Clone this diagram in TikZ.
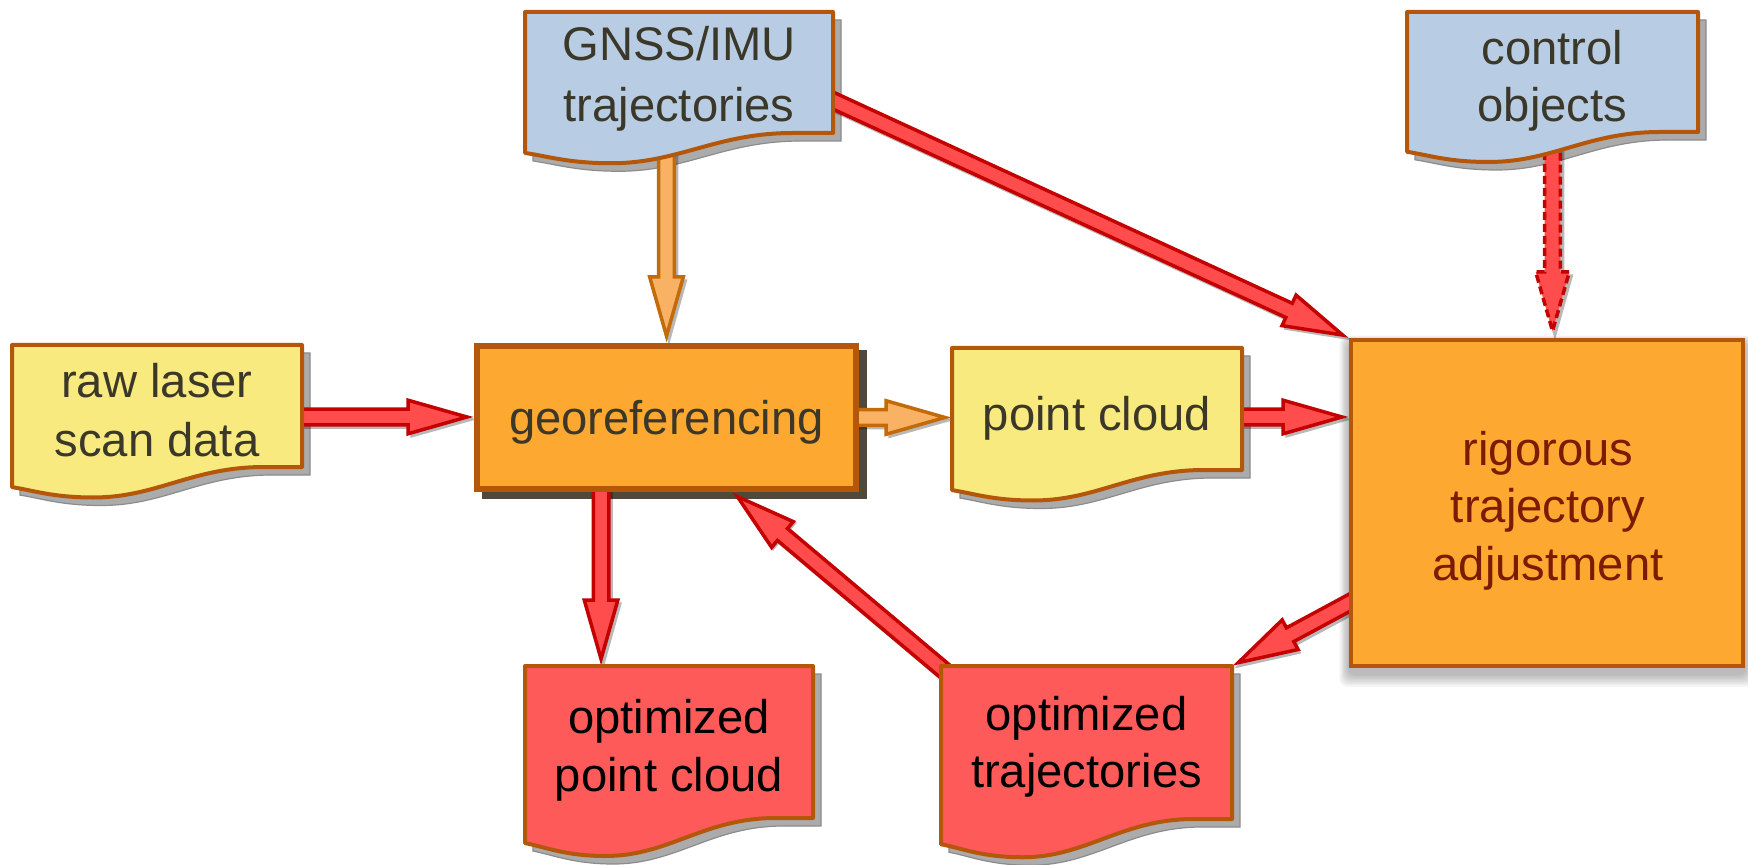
\documentclass[tikz,border=0pt]{standalone}
\usepackage{fontspec}
\setmainfont{Liberation Sans}
\usetikzlibrary{calc}

\definecolor{docblue}{HTML}{B8CDE4}
\definecolor{docyellow}{HTML}{F8EA7E}
\definecolor{docred}{HTML}{FF5A5A}
\definecolor{boxorange}{HTML}{FDA830}
\definecolor{borderc}{HTML}{B5570A}
\definecolor{txtdark}{HTML}{3B3829}
\definecolor{txtrig}{HTML}{7A1C05}
\definecolor{arrred}{HTML}{FF4D4D}
\definecolor{arrredline}{HTML}{C40000}
\definecolor{arrorange}{HTML}{F9B264}
\definecolor{arrorangeline}{HTML}{C36B09}
\definecolor{shadowgray}{HTML}{ABABAB}
\definecolor{shadowdark}{HTML}{4E493B}

\pgfdeclarelayer{shadowlayer}
\pgfdeclarelayer{arrowlayer}
\pgfsetlayers{shadowlayer,arrowlayer,main}

% document shape drawn from the rectangle of a named node (#2), offset (#3,#4)
\newcommand\docdraw[4]{%
  \path[#1] let \p1=($(#2.north west)+(#3,#4)$), \p2=($(#2.south east)+(#3,#4)$) in
    (\x1,\y1) -- (\x2,\y1) -- (\x2,\y2) -- ({\x1+0.87*(\x2-\x1)},\y2)
    .. controls ({\x1+0.62*(\x2-\x1)},\y2) and ({\x1+0.5*(\x2-\x1)},{\y2-0.25*(\y1-\y2)}) .. ({\x1+0.28*(\x2-\x1)},{\y2-0.25*(\y1-\y2)})
    .. controls ({\x1+0.14*(\x2-\x1)},{\y2-0.25*(\y1-\y2)}) and ({\x1+0.07*(\x2-\x1)},{\y2-0.19*(\y1-\y2)}) .. (\x1,{\y2-0.165*(\y1-\y2)}) -- cycle;}

% block arrow from #2 to #3 with style #1
\newcommand\blockarrow[3]{%
  \path let \p1=(#2), \p2=(#3) in \pgfextra{%
    \pgfmathsetmacro\bxA{atan2(\y2-\y1,\x2-\x1)}\xdef\barA{\bxA}%
    \pgfmathsetmacro\bxL{veclen(\x2-\x1,\y2-\y1)}\xdef\barL{\bxL}%
    \xdef\barX{\x1}\xdef\barY{\y1}};
  \begin{scope}[shift={(\barX+1.2pt,\barY-1.2pt)},rotate=\barA]
    \fill[arrowshadow] (0pt,-4.75pt) -- ({\barL pt-33pt},-4.75pt) -- ({\barL pt-33pt},-9.25pt) -- ({\barL pt},0pt) -- ({\barL pt-33pt},9.25pt) -- ({\barL pt-33pt},4.75pt) -- (0pt,4.75pt) -- cycle;
  \end{scope}
  \begin{scope}[shift={(\barX,\barY)},rotate=\barA]
    \filldraw[#1] (0pt,-3.9pt) -- ({\barL pt-33pt},-3.9pt) -- ({\barL pt-33pt},-8.4pt) -- ({\barL pt-3.5pt},0pt) -- ({\barL pt-33pt},8.4pt) -- ({\barL pt-33pt},3.9pt) -- (0pt,3.9pt) -- cycle;
  \end{scope}}

\begin{document}
\begin{tikzpicture}[x=0.5pt,y=-0.5pt,
  shapenode/.style={rectangle, inner sep=0pt, outer sep=0pt},
  doc/.style={draw=borderc, line width=2pt, line join=round},
  docshadow/.style={fill=shadowgray, draw=black!45, line width=0.6pt},
  txt/.style={inner sep=0pt, outer sep=0pt, align=center, text=txtdark},
  arrowshadow/.style={fill=black, opacity=0.28},
  redarrow/.style={fill=arrred, draw=arrredline, line width=1.75pt, line join=miter},
  orangearrow/.style={fill=arrorange, draw=arrorangeline, line width=1.75pt, line join=miter},
  dashedarrow/.style={redarrow, dash pattern=on 4pt off 2pt}]

\begin{pgfonlayer}{shadowlayer}
\fill[white] (0,0) rectangle (1748,865);
\end{pgfonlayer}
\useasboundingbox (0,0) rectangle (1748,865);

% ---- node frames
\node[shapenode, minimum width=154pt, minimum height=60.5pt] (gnss) at (679,72.5) {};
\node[shapenode, minimum width=145.5pt, minimum height=60pt] (control) at (1552.5,72) {};
\node[shapenode, minimum width=145pt, minimum height=61pt] (raw) at (157,406) {};
\node[shapenode, minimum width=145pt, minimum height=61pt] (pc) at (1097,409) {};
\node[shapenode, minimum width=144pt, minimum height=76pt] (optpc) at (669,742) {};
\node[shapenode, minimum width=145.5pt, minimum height=76.5pt] (opttraj) at (1086.5,742.5) {};

\node[rectangle, draw=borderc, line width=3pt, fill=boxorange, inner sep=0pt,
      minimum width=189.5pt, minimum height=71.5pt, text=txtdark,
      font=\fontsize{23.6pt}{29pt}\selectfont, text height=20pt, text depth=2.5pt]
      (georef) at (666.5,417.5) {georeferencing};
\node[rectangle, draw=borderc, line width=2pt, fill=boxorange, inner sep=0pt,
      minimum width=196pt, minimum height=163pt] (rig) at (1547,503) {};

% ---- document shapes
\docdraw{doc, fill=docblue}{gnss}{0pt}{0pt}
\docdraw{doc, fill=docblue}{control}{0pt}{0pt}
\docdraw{doc, fill=docyellow}{raw}{0pt}{0pt}
\docdraw{doc, fill=docyellow}{pc}{0pt}{0pt}
\docdraw{doc, fill=docred}{optpc}{0pt}{0pt}
\docdraw{doc, fill=docred}{opttraj}{0pt}{0pt}

% ---- texts
\node[txt, anchor=north, font=\fontsize{23.6pt}{30.5pt}\selectfont] (gnsstext) at (679,26) {GNSS/IMU\\trajectories};
\node[txt, anchor=north, font=\fontsize{23.6pt}{28.5pt}\selectfont] (controltext) at (1552.5,30.5) {control\\objects};
\node[txt, anchor=north, font=\fontsize{23.6pt}{29.5pt}\selectfont] (rawtext) at (157,363.5) {raw laser\\scan data};
\node[txt, anchor=base, font=\fontsize{23.6pt}{29.5pt}\selectfont] (pctext) at (1097,430) {point cloud};
\node[txt, anchor=north, text=black, font=\fontsize{23.6pt}{29pt}\selectfont] (optpctext) at (669,699) {optimized\\point cloud};
\node[txt, anchor=north, text=black, font=\fontsize{23.6pt}{28.5pt}\selectfont] (opttrajtext) at (1086.5,696.5) {optimized\\trajectories};
\node[txt, anchor=north, text=txtrig, font=\fontsize{23.6pt}{28.75pt}\selectfont] (rigtext) at (1548,431) {rigorous\\trajectory\\adjustment};

% ---- shadows
\begin{pgfonlayer}{shadowlayer}
\docdraw{docshadow}{gnss}{4pt}{-4pt}
\docdraw{docshadow}{control}{4pt}{-4pt}
\docdraw{docshadow}{raw}{4pt}{-4pt}
\docdraw{docshadow}{pc}{4pt}{-4pt}
\docdraw{docshadow}{optpc}{4pt}{-4pt}
\docdraw{docshadow}{opttraj}{4pt}{-4pt}
\fill[shadowdark] ($(georef.north west)+(4pt,-3.5pt)$) rectangle ($(georef.south east)+(4pt,-3.5pt)$);
\foreach \i in {1,...,8}{
  \fill[black, opacity=0.035, rounded corners=4pt]
    ($(rig.north west)+({-\i*0.6pt},{-2pt+\i*0.4pt})$) rectangle ($(rig.south east)+({\i*0.6pt},{-3pt-\i*0.8pt})$);
}
\end{pgfonlayer}

% ---- connectors
\coordinate (a1s) at ($(raw.east)+(-4pt,-5.5pt)$);
\coordinate (a1e) at (a1s -| georef.west);
\coordinate (a2s) at ($(gnss.south -| georef.north)+(0,2pt)$);
\coordinate (a3s) at ($(georef.east)+(-4pt,0)$);
\coordinate (a3e) at (a3s -| pc.west);
\coordinate (a4s) at ($(pc.east)+(-4pt,-4pt)$);
\coordinate (a4e) at (a4s -| rig.west);
\coordinate (a5s) at ($(gnss.east)+(-4pt,-12.2pt)$);
\coordinate (a6s) at ($(control.south)+(0,2pt)$);
\coordinate (a6e) at (control.south |- rig.north);
\coordinate (a7s) at ($(georef.south west)!0.33!(georef.south east)+(0,4pt)$);
\coordinate (a7e) at (a7s |- optpc.north);
\coordinate (a8s) at ($(opttraj.north west)+(6pt,-6pt)$);
\coordinate (a8e) at ($(georef.south west)!0.67!(georef.south east)$);
\coordinate (a9s) at ($(rig.south west)!0.21!(rig.north west)+(4pt,0)$);

\begin{pgfonlayer}{arrowlayer}
\blockarrow{redarrow}{a1s}{a1e}
\blockarrow{orangearrow}{a2s}{georef.north}
\blockarrow{orangearrow}{a3s}{a3e}
\blockarrow{redarrow}{a4s}{a4e}
\blockarrow{redarrow}{a5s}{rig.north west}
\blockarrow{dashedarrow}{a6s}{a6e}
\blockarrow{redarrow}{a7s}{a7e}
\blockarrow{redarrow}{a8s}{a8e}
\blockarrow{redarrow}{a9s}{opttraj.north east}
\end{pgfonlayer}
\end{tikzpicture}
\end{document}
